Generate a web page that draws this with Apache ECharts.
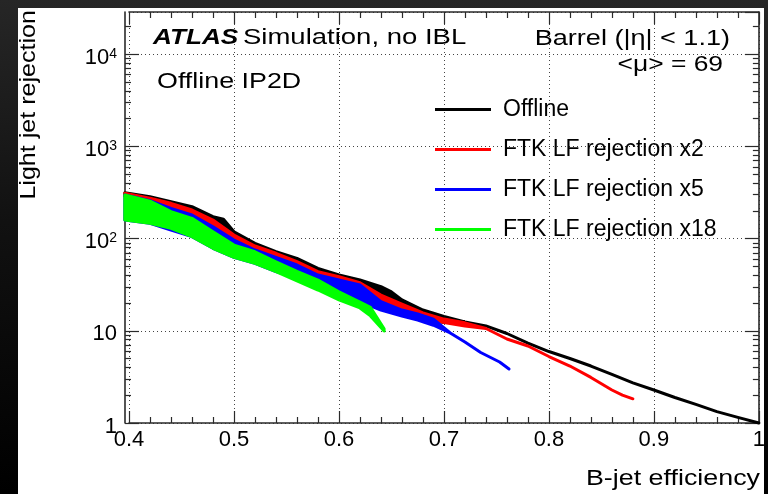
<!DOCTYPE html>
<html><head><meta charset="utf-8">
<script src="https://cdn.jsdelivr.net/npm/echarts@6/dist/echarts.min.js"></script>
<style>
html,body{margin:0;padding:0;background:#000;}
#c{width:768px;height:494px;background:linear-gradient(180deg,#262626 0%,#111 45%,#000 100%);}
</style></head>
<body><div id="c"></div>
<script>
// ---- data ----
const seriesNames = ['Offline', 'FTK LF rejection x2', 'FTK LF rejection x5', 'FTK LF rejection x18'];
const seriesColors = ['#000000', '#ff0000', '#0000ff', '#00ff00'];

const offlineEff = [0.396,0.42,0.44,0.46,0.48,0.49,0.50,0.52,0.54,0.56,0.58,0.60,0.62,0.64,0.65,0.66,0.68,0.70,0.72,0.74,0.76,0.78,0.80,0.82,0.84,0.86,0.88,0.90,0.92,0.94,0.96,0.98,1.00];
const offlineHi  = [314.6,284.8,251.3,221.8,172.8,162.0,118.8,88.9,72.1,61.1,47.6,40.3,35.6,30.1,26.4,21.6,16.8,14.3,12.5,11.3,9.35,7.37,5.96,5.01,4.15,3.36,2.72,2.28,1.89,1.59,1.33,1.15,1.0];
const offlineLo  = [289.7,251.3,213.1,172.8,129.3,110,92.5,72.1,61.1,49.6,40.3,34.1,28.9,20.5,18.7,17.0,13.8,12.3,12.5,11.3,9.35,7.37,5.96,5.01,4.15,3.36,2.72,2.28,1.89,1.59,1.33,1.15,1.0];

const x2Eff = [0.396,0.42,0.44,0.46,0.48,0.50,0.52,0.54,0.56,0.58,0.60,0.62,0.64,0.66,0.68,0.70,0.72,0.74,0.76,0.78,0.80,0.82,0.84,0.86,0.87,0.88];
const x2Hi  = [309.9,273.6,241.5,204.2,159.1,109.4,83.1,69.3,56.2,43.8,38.6,33.2,24.4,19.5,15.6,13.4,12.2,10.6,8.15,6.84,5.26,4.15,3.12,2.28,2.01,1.83];
const x2Lo  = [289.7,251.3,213.1,172.8,129.3,92.5,72.1,61.1,49.6,40.3,34.1,28.9,20.5,17.0,13.8,12.3,11.3,10.6,8.15,6.84,5.26,4.15,3.12,2.28,2.01,1.83];

const x5Eff = [0.396,0.42,0.44,0.46,0.48,0.50,0.52,0.54,0.56,0.58,0.60,0.62,0.64,0.66,0.675,0.69,0.706,0.72,0.735,0.753,0.762];
const x5Hi  = [297.1,257.7,213.1,180.3,134.6,96.6,75.2,62.7,51.7,40.3,35.6,31.4,20.7,16.8,15.2,13.4,9.47,7.56,5.82,4.59,3.85];
const x5Lo  = [159.1,146.5,124.0,104.9,78.5,62.7,54.0,43.8,37.1,31.4,27.7,20.7,16.8,14.5,13.1,11.5,9.47,7.56,5.82,4.59,3.85];

const x18Eff = [0.396,0.42,0.44,0.46,0.48,0.50,0.52,0.54,0.56,0.58,0.60,0.62,0.63,0.643];
const x18Hi  = [297.1,255,196,166,119,85,72,56,44,35.5,26.5,20.5,18.0,10.5];
const x18Lo  = [159.1,146.5,129.3,104.9,78.5,62.7,54.0,43.8,34.7,27.7,21.6,17.7,14.5,9.95];

const xMin = 0.4, xMax = 1.0, xStep = 0.1;
const yMin = 1, yMax = 28700;
const yMinorTicks = [2,3,4,5,6,7,8,9,20,30,40,50,60,70,80,90,200,300,400,500,600,700,800,900,2000,3000,4000,5000,6000,7000,8000,9000,20000];

// ---- chart ----
const FONT = 'Liberation Sans';
const chart = echarts.init(document.getElementById('c'), null, {renderer: 'canvas'});

function band(idx, xs, lo, hi) {
  const color = seriesColors[idx];
  return {
    type: 'custom', name: seriesNames[idx], xAxisIndex: 0, yAxisIndex: 0,
    itemStyle: {color: color}, silent: true, z: 3 + idx,
    data: [[xs[0], hi[0]]],
    encode: {x: 0, y: 1},
    renderItem: function (params, api) {
      const pts = [];
      for (let i = 0; i < xs.length; i++) pts.push(api.coord([xs[i], hi[i]]));
      for (let i = xs.length - 1; i >= 0; i--) pts.push(api.coord([xs[i], lo[i]]));
      return {type: 'polygon', shape: {points: pts},
        style: {fill: color, stroke: color, lineWidth: 3, lineJoin: 'round'}};
    }
  };
}

const frameLine = {show: true, onZero: false, lineStyle: {color: '#2a2a2a', width: 1.6}};
const tickStyle = {color: '#2a2a2a', width: 1.2};
const grid = {left: 129, right: 8, top: 12, bottom: 71};

function xFmt(v) { const r = Math.round(v * 10) / 10; return r === 1 ? '1' : r.toFixed(1); }
function yFmt(v) {
  const e = Math.round(Math.log10(v));
  if (e === 0) return '1';
  if (e === 1) return '10';
  return '{b|10}{s|' + e + '}';
}

const option = {
  backgroundColor: 'transparent',
  animation: false,
  grid: grid,
  xAxis: [
    {type: 'value', position: 'bottom', min: xMin, max: xMax, interval: xStep,
     axisLine: frameLine,
     axisTick: {show: true, inside: true, length: 12, lineStyle: tickStyle},
     minorTick: {show: true, splitNumber: 5, length: 6, lineStyle: tickStyle},
     axisLabel: {show: true, formatter: xFmt, margin: 6, color: '#000', fontFamily: FONT, fontSize: 22},
     splitLine: {show: true, lineStyle: {color: '#444', width: 1, type: [1, 3]}}},
    {type: 'value', position: 'top', min: xMin, max: xMax, interval: xStep,
     axisLine: frameLine,
     axisTick: {show: true, inside: true, length: 12, lineStyle: tickStyle},
     minorTick: {show: true, splitNumber: 5, length: 6, lineStyle: tickStyle},
     axisLabel: {show: false}, splitLine: {show: false}}
  ],
  yAxis: [
    {type: 'log', logBase: 10, position: 'left', offset: 4, min: yMin, max: yMax,
     axisLine: frameLine,
     axisTick: {show: true, inside: true, length: 14, lineStyle: tickStyle},
     axisLabel: {show: true, showMaxLabel: false, formatter: yFmt, margin: 8, color: '#000',
       fontFamily: FONT, fontSize: 22, padding: [7, 0, 0, 0],
       rich: {b: {fontFamily: FONT, fontSize: 22, lineHeight: 22, verticalAlign: 'bottom', color: '#000'},
              s: {fontFamily: FONT, fontSize: 14, lineHeight: 14, verticalAlign: 'top', color: '#000'}}},
     splitLine: {show: true, lineStyle: {color: '#444', width: 1, type: [1, 3]}}},
    {type: 'log', logBase: 10, position: 'left', offset: 4, min: yMin, max: yMax,
     axisLine: {show: false},
     axisTick: {show: true, inside: true, length: 6, customValues: yMinorTicks, lineStyle: tickStyle},
     axisLabel: {show: false}, splitLine: {show: false}},
    {type: 'log', logBase: 10, position: 'right', min: yMin, max: yMax,
     axisLine: frameLine,
     axisTick: {show: true, inside: true, length: 14, lineStyle: tickStyle},
     axisLabel: {show: false}, splitLine: {show: false}},
    {type: 'log', logBase: 10, position: 'right', min: yMin, max: yMax,
     axisLine: {show: false},
     axisTick: {show: true, inside: true, length: 6, customValues: yMinorTicks, lineStyle: tickStyle},
     axisLabel: {show: false}, splitLine: {show: false}}
  ],
  legend: {
    orient: 'vertical', left: 435, top: 98, padding: 0,
    itemWidth: 56, itemHeight: 3, itemGap: 17, selectedMode: false,
    textStyle: {fontFamily: FONT, fontSize: 23, lineHeight: 22, color: '#000', padding: [0, 0, 0, 7]},
    data: seriesNames.map(n => ({name: n, icon: 'rect'}))
  },
  series: [
    band(0, offlineEff, offlineLo, offlineHi),
    band(1, x2Eff, x2Lo, x2Hi),
    band(2, x5Eff, x5Lo, x5Hi),
    band(3, x18Eff, x18Lo, x18Hi)
  ],
  graphic: [
    {type: 'rect', x: 18, y: 8, z: -100, silent: true, shape: {width: 746, height: 486}, style: {fill: '#ffffff'}},
    {type: 'text', x: 153, y: 38, scaleX: 1.19, z: 10, silent: true,
     style: {text: 'ATLAS', fontFamily: FONT, fontSize: 22, fontWeight: 'bold', fontStyle: 'italic', fill: '#000',
             align: 'left', verticalAlign: 'middle', textAlign: 'left', textVerticalAlign: 'middle'}},
    {type: 'text', x: 243, y: 38, scaleX: 1.25, z: 10, silent: true,
     style: {text: 'Simulation, no IBL', fontFamily: FONT, fontSize: 22, fill: '#000',
             align: 'left', verticalAlign: 'middle', textAlign: 'left', textVerticalAlign: 'middle'}},
    {type: 'text', x: 157, y: 82, scaleX: 1.22, z: 10, silent: true,
     style: {text: 'Offline IP2D', fontFamily: FONT, fontSize: 22, fill: '#000',
             align: 'left', verticalAlign: 'middle', textAlign: 'left', textVerticalAlign: 'middle'}},
    {type: 'text', x: 730, y: 38.5, scaleX: 1.23, z: 10, silent: true,
     style: {text: 'Barrel (|\u03b7| < 1.1)', fontFamily: FONT, fontSize: 22, fill: '#000',
             align: 'right', verticalAlign: 'middle', textAlign: 'right', textVerticalAlign: 'middle'}},
    {type: 'text', x: 723, y: 65, scaleX: 1.2, z: 10, silent: true,
     style: {text: '<\u03bc> = 69', fontFamily: FONT, fontSize: 22, fill: '#000',
             align: 'right', verticalAlign: 'middle', textAlign: 'right', textVerticalAlign: 'middle'}},
    {type: 'text', x: 760, y: 479, scaleX: 1.22, z: 10, silent: true,
     style: {text: 'B-jet efficiency', fontFamily: FONT, fontSize: 22, fill: '#000',
             align: 'right', verticalAlign: 'middle', textAlign: 'right', textVerticalAlign: 'middle'}},
    {type: 'text', x: 29, y: 10, rotation: Math.PI / 2, scaleX: 1.14, z: 10, silent: true,
     style: {text: 'Light jet rejection', fontFamily: FONT, fontSize: 22, fill: '#000',
             align: 'right', verticalAlign: 'middle', textAlign: 'right', textVerticalAlign: 'middle'}}
  ]
};
chart.setOption(option);
</script>
</body></html>
